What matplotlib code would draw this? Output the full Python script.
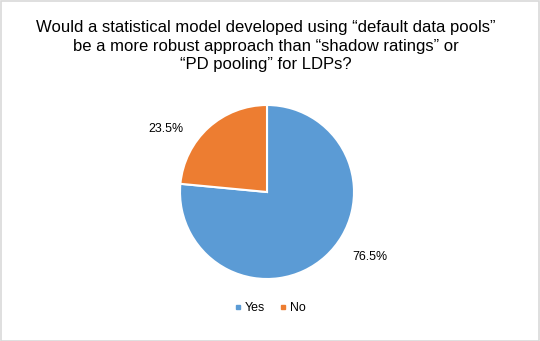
import matplotlib.pyplot as plt
from matplotlib.patches import Rectangle
from matplotlib.lines import Line2D

plt.rcParams['font.family'] = ['Liberation Sans', 'DejaVu Sans']

# data
labels = ["Yes", "No"]
values = [76.5, 23.5]
colors = ["#5B9BD5", "#ED7D31"]
title = ("Would a statistical model developed using \u201cdefault data pools\u201d\n"
         "be a more robust approach than \u201cshadow ratings\u201d or\n"
         "\u201cPD pooling\u201d for LDPs?")

W, H = 540, 341
fig = plt.figure(figsize=(W / 100, H / 100), dpi=100)

# grey frame round the chart area
fig.patches.append(Rectangle((0.5 / W, 0.5 / H), 1 - 1.5 / W, 1 - 1.5 / H,
                             transform=fig.transFigure, fill=False,
                             edgecolor="#D9D9D9", linewidth=1.2))

fig.text(0.493, 1 - 46 / H, title, ha="center", va="center", multialignment="center",
         fontsize=12, linespacing=1.3, color="#000000")

# pie: centre (267,192) px, radius 87 px
cx, cy, r = 267, 192, 87
ax = fig.add_axes([(cx - r) / W, (H - cy - r) / H, 2 * r / W, 2 * r / H])
wedges, _ = ax.pie(values, colors=colors, startangle=90, counterclock=False,
                   wedgeprops=dict(edgecolor="white", linewidth=1.5))
ax.set_xlim(-1, 1)
ax.set_ylim(-1, 1)
ax.set_aspect("equal")

# percentage labels (Excel style, outside the pie)
label_pos = [(1.18, -0.75), (-1.16, 0.72)]
for v, (x, y) in zip(values, label_pos):
    ax.text(x, y, f"{v:.1f}%", ha="center", va="center", fontsize=8.9,
            color="#000000")

handles = [Line2D([], [], marker="s", linestyle="none", markersize=3.5,
                  markerfacecolor=c, markeredgecolor=c) for c in colors]
fig.legend(handles, labels, loc="center", bbox_to_anchor=(0.5, 1 - 308 / H),
           ncol=2, frameon=False, fontsize=8.9, handlelength=0.5,
           handletextpad=0.3, columnspacing=1.2)

fig.savefig("out.png", dpi=100)
